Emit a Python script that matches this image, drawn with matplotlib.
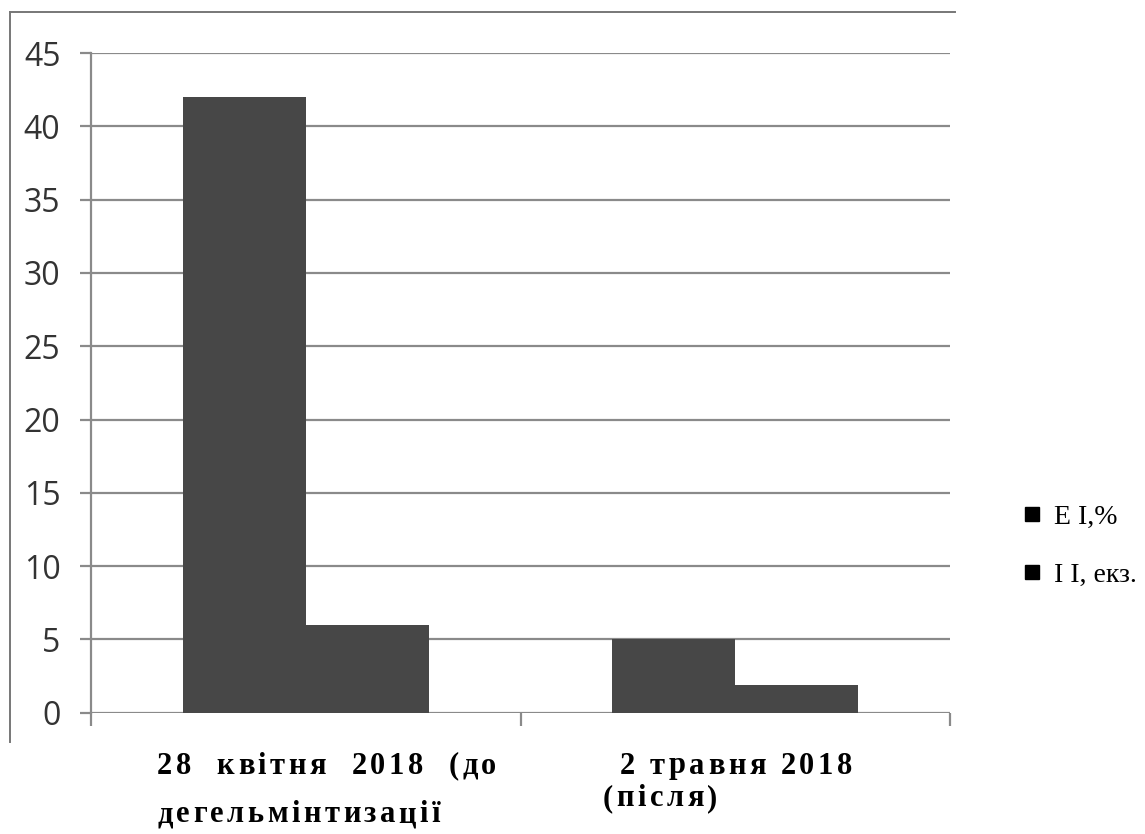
import matplotlib
matplotlib.use("agg")
import matplotlib.pyplot as plt
from matplotlib.lines import Line2D
import numpy as np

series_names = ["E I,%", "I I, екз."]
ei_values = [42, 5]
ii_values = [6, 1.9]
y_ticks = [0, 5, 10, 15, 20, 25, 30, 35, 40, 45]
# category captions, line by line: (text, x px, y px, align)
caption_lines = [
    ("28  квітня  2018  (до", 157, 766, "left"),
    ("дегельмінтизації", 157, 815, "left"),
    ("2 травня 2018", 736, 766, "center"),
    ("(після)", 603, 799, "left"),
]

W, H = 1145, 834
fig = plt.figure(figsize=(W / 100.0, H / 100.0), dpi=100)

# plot area in pixel terms of the page
left, right, top, bottom = 91, 950, 53, 712.7
ax = fig.add_axes([left / W, 1 - bottom / H, (right - left) / W, (bottom - top) / H])

bar_color = "#474747"
grid_color = "#8a8a8a"
width = 0.286
x = np.arange(len(ei_values))
ax.bar(x - width / 2, ei_values, width, color=bar_color, zorder=3)
ax.bar(x + width / 2, ii_values, width, color=bar_color, zorder=3)

ax.set_xlim(-0.5, len(ei_values) - 0.5)
ax.set_ylim(0, 45)
ax.set_yticks(y_ticks)
ax.yaxis.grid(True, color=grid_color, lw=1.6, zorder=1)
ax.tick_params(axis="y", length=8, width=1.6, color=grid_color, pad=14,
               labelsize=23, labelcolor="#333333")
for lab in ax.get_yticklabels():
    lab.set_family("Open Sans")

# category boundaries as ticks below the axis
ax.set_xticks([-0.5, 0.5, 1.5])
ax.set_xticklabels([])
ax.tick_params(axis="x", length=9, width=1.6, color=grid_color)

for side in ["top", "right", "bottom"]:
    ax.spines[side].set_visible(False)
ax.spines["left"].set_color(grid_color)
ax.spines["left"].set_linewidth(1.6)
ax.spines["left"].set_bounds(0, 45)

# letter-spaced bold captions
renderer = fig.canvas.get_renderer()
lab_font = dict(family="Liberation Serif", weight="bold", fontsize=22, color="black")


def text_width(s):
    t = fig.text(0, 0, s, **lab_font)
    w = t.get_window_extent(renderer).width
    t.remove()
    return w


def tracked_text(s, x0, y0, ha="left", track=3.5):
    total = text_width(s) + (len(s) - 1) * track
    if ha == "center":
        x0 = x0 - total / 2.0
    for i, ch in enumerate(s):
        if ch == " ":
            continue
        pos = text_width(s[:i + 1]) - text_width(ch)
        fig.text((x0 + pos + i * track) / W, 1 - y0 / H, ch,
                 ha="left", va="center", **lab_font)


for s, cx, cy, ha in caption_lines:
    tracked_text(s, cx, cy, ha)

# outer chart frame (left and top edges)
fig.add_artist(Line2D([10 / W, 10 / W], [1 - 742 / H, 1 - 12 / H], color="#777777", lw=1.4))
fig.add_artist(Line2D([10 / W, 955 / W], [1 - 12 / H, 1 - 12 / H], color="#777777", lw=1.4))

handles = [Line2D([], [], ls="", marker="s", color="black", markersize=10) for _ in series_names]
fig.legend(handles, series_names, loc="center left", bbox_to_anchor=(993 / W, 1 - 546 / H),
           frameon=False, handletextpad=0.3, labelspacing=1.15, handlelength=1.0,
           prop=dict(family="Liberation Serif", size=20))

fig.savefig("out.png", dpi=100)
